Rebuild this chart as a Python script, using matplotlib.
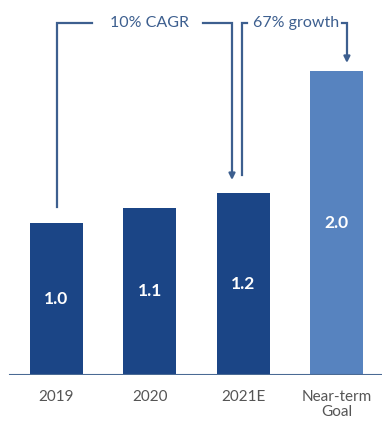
import matplotlib
matplotlib.use("Agg")
import matplotlib.pyplot as plt

categories = ["2019", "2020", "2021E", "Near-term\nGoal"]
values = [1.0, 1.1, 1.2, 2.0]
value_labels = ["1.0", "1.1", "1.2", "2.0"]
cagr_label = "10% CAGR"
growth_label = "67% growth"

dark = "#1b4586"
light = "#5783bf"
line_col = "#3d5f8f"

plt.rcParams["font.family"] = ["Lato", "DejaVu Sans"]

fig = plt.figure(figsize=(3.82, 4.21), dpi=100)
ax = fig.add_axes([0, 46 / 421, 1, 375 / 421])

x = list(range(len(categories)))
colors = [dark, dark, dark, light]
bars = ax.bar(x, values, width=0.57, color=colors, zorder=2)

# value inside each bar, at mid-height
for xi, v, lab in zip(x, values, value_labels):
    ax.text(xi, v / 2, lab, ha="center", va="center", color="white",
            fontsize=12.5, fontweight="bold")

ax.set_xlim(-0.606, 3.489)
ax.set_ylim(0, 2.467)
for s in ax.spines.values():
    s.set_visible(False)
ax.axhline(0, xmin=10 / 382, xmax=1, color="#4a6a94", lw=1.5, zorder=3)
ax.set_yticks([])
ax.set_xticks(x)
ax.set_xticklabels(categories, fontsize=11, color="#555555", linespacing=1.05)
ax.tick_params(axis="x", length=0, pad=11)

top = 2.316
lw = 1.6

# CAGR bracket: 2019 -> 2021E
ax.plot([0, 0, 0.38], [values[0] + 0.105, top, top], color=line_col, lw=lw,
        solid_joinstyle="miter", clip_on=False)
ax.plot([1.57, 1.881, 1.881], [top, top, values[2] + 0.12], color=line_col,
        lw=lw, solid_joinstyle="miter", clip_on=False)
ax.annotate("", xy=(1.881, values[2] + 0.083), xytext=(1.881, values[2] + 0.13),
            arrowprops=dict(arrowstyle="-|>", color=line_col, lw=lw,
                            mutation_scale=9, shrinkA=0, shrinkB=0))
ax.text(1.0, top, cagr_label, ha="center", va="center", fontsize=11.5,
        color=line_col)

# growth bracket: 2021E -> goal
ax.plot([2.042, 1.988, 1.988], [top, top, values[2] + 0.116], color=line_col,
        lw=lw, solid_joinstyle="miter", clip_on=False)
ax.plot([3.06, 3.113, 3.113], [top, top, values[3] + 0.1], color=line_col,
        lw=lw, solid_joinstyle="miter", clip_on=False)
ax.annotate("", xy=(3.113, values[3] + 0.053), xytext=(3.113, values[3] + 0.1),
            arrowprops=dict(arrowstyle="-|>", color=line_col, lw=lw,
                            mutation_scale=9, shrinkA=0, shrinkB=0))
ax.text(2.567, top, growth_label, ha="center", va="center", fontsize=11.5,
        color=line_col)

fig.savefig("out.png", dpi=100)
